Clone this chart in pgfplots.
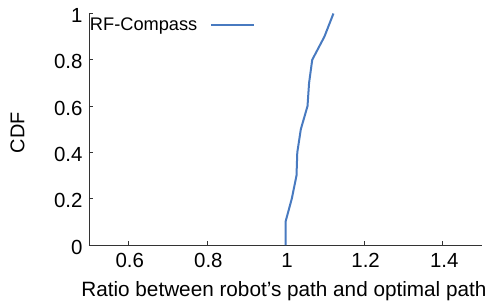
\documentclass[border=0pt]{standalone}
\usepackage{pgfplots}
\pgfplotsset{compat=1.18}
\usepackage{fontspec}
\setmainfont{Liberation Sans}
\definecolor{cdfblue}{RGB}{72,122,192}
\begin{document}
\begin{tikzpicture}
\begin{axis}[
  at={(0,0)}, anchor=origin,
  scale only axis, width=393bp, height=231.5bp,
  xmin=0.5, xmax=1.5, ymin=0, ymax=1,
  axis x line*=bottom, axis y line*=left,
  axis line style={-, line width=0.9bp, color=black!80},
  tick align=inside, major tick length=4bp,
  tick style={line width=0.8bp, color=black!80},
  xtick={0.6,0.8,1,1.2,1.4},
  ytick={0,0.2,0.4,0.6,0.8,1},
  /pgf/number format/assume math mode=true,
  ticklabel style={font=\fontsize{20.5}{24}\selectfont},
  xticklabel style={yshift=-5bp, xshift=1.5bp},
  yticklabel style={xshift=-3bp, yshift=-2bp},
  xlabel={Ratio between robot’s path and optimal path},
  ylabel={CDF},
  every axis x label/.style={at={(axis description cs:0.496,-0.2246)}, anchor=base, font=\fontsize{20.8}{24}\selectfont},
  every axis y label/.style={at={(axis description cs:-0.182,0.485)}, rotate=90, anchor=center, font=\fontsize{20}{24}\selectfont},
  legend style={draw=none, fill=none, at={(axis description cs:0,1)}, anchor=north west,
    yshift=-3bp, inner sep=0pt, outer sep=0pt, font=\fontsize{18.3}{22}\selectfont,
    nodes={inner sep=1bp}},
  legend plot pos=right,
  legend image code/.code={\path (0bp,0bp); \draw[#1] (12bp,0bp) -- (55bp,0bp);},
]
\addplot[color=cdfblue, line width=2bp] coordinates {
  (1.0,0) (1.0,0.1) (1.016,0.2) (1.028,0.3) (1.030,0.4) (1.039,0.5)
  (1.056,0.6) (1.060,0.7) (1.068,0.8) (1.099,0.9) (1.122,1.0)
};
\addlegendentry{RF-Compass}
\end{axis}
\pgfresetboundingbox
\path[use as bounding box] (-89bp,-58bp) rectangle (403bp,245bp);
\end{tikzpicture}
\end{document}
